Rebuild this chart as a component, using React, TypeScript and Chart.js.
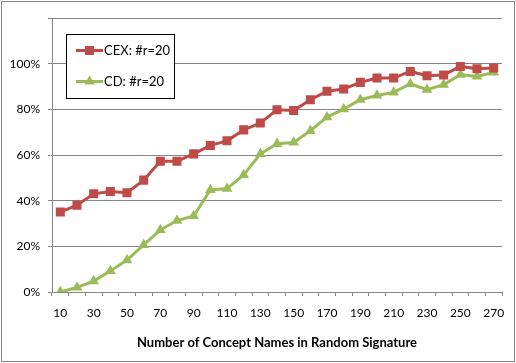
import React, { useEffect, useRef } from "react";
import { Chart, registerables } from "chart.js";

Chart.register(...registerables);

const categories = [10, 20, 30, 40, 50, 60, 70, 80, 90, 100, 110, 120, 130, 140, 150, 160, 170, 180, 190, 200, 210, 220, 230, 240, 250, 260, 270];
const cexValues = [0.35, 0.38, 0.43, 0.44, 0.435, 0.49, 0.573, 0.573, 0.605, 0.642, 0.662, 0.71, 0.74, 0.798, 0.795, 0.842, 0.879, 0.889, 0.918, 0.937, 0.937, 0.966, 0.947, 0.95, 0.988, 0.978, 0.981];
const cdValues = [0.0, 0.02, 0.048, 0.092, 0.14, 0.206, 0.272, 0.313, 0.333, 0.447, 0.453, 0.513, 0.605, 0.649, 0.655, 0.706, 0.766, 0.801, 0.842, 0.861, 0.874, 0.911, 0.886, 0.908, 0.952, 0.944, 0.962];
const seriesLabels = ["CEX: #r=20", "CD: #r=20"];
const yTickValues = [0, 0.2, 0.4, 0.6, 0.8, 1.0, 1.2];
const xTitle = "Number of Concept Names in Random Signature";

const RED = "#BE4B48";
const GREEN = "#9BBB59";
const GRID = "#868686";
const FONT = "Lato";

const legendPlugin = {
  id: "insideLegend",
  afterDraw(chart: any) {
    const ctx = chart.ctx;
    ctx.save();
    const bx = 66.5, by = 34.5, bw = 108, bh = 64;
    ctx.fillStyle = "#fff";
    ctx.fillRect(bx, by, bw, bh);
    ctx.strokeStyle = "#000";
    ctx.lineWidth = 1;
    ctx.strokeRect(bx, by, bw, bh);
    const rows = [50.5, 81.5];
    chart.data.datasets.forEach((ds: any, i: number) => {
      const y = rows[i];
      ctx.strokeStyle = ds.borderColor;
      ctx.lineWidth = 3;
      ctx.beginPath();
      ctx.moveTo(76, y);
      ctx.lineTo(103, y);
      ctx.stroke();
      ctx.fillStyle = ds.backgroundColor;
      if (ds.pointStyle === "rect") {
        ctx.fillRect(85, y - 4.5, 9, 9);
      } else {
        const r = 6;
        ctx.beginPath();
        ctx.moveTo(89.5, y - r);
        ctx.lineTo(89.5 + r * 0.866, y + r / 2);
        ctx.lineTo(89.5 - r * 0.866, y + r / 2);
        ctx.closePath();
        ctx.fill();
      }
      ctx.fillStyle = "#000";
      ctx.font = `13px ${FONT}`;
      ctx.textAlign = "left";
      ctx.textBaseline = "middle";
      ctx.fillText(ds.label, 104, y);
    });
    ctx.restore();
  },
};

export default function App() {
  const ref = useRef<HTMLCanvasElement | null>(null);
  useEffect(() => {
    document.body.style.margin = "0";
    if (!ref.current) return;
    const chart = new Chart(ref.current, {
      type: "line",
      data: {
        labels: categories.map(String),
        datasets: [
          {
            label: seriesLabels[0],
            data: cexValues,
            borderColor: RED,
            backgroundColor: RED,
            borderWidth: 3,
            pointStyle: "rect",
            pointRadius: 6.4,
            pointBorderWidth: 0,
            tension: 0,
          },
          {
            label: seriesLabels[1],
            data: cdValues,
            borderColor: GREEN,
            backgroundColor: GREEN,
            borderWidth: 3,
            pointStyle: "triangle",
            pointRadius: 6.2,
            pointBorderWidth: 0,
            tension: 0,
          },
        ],
      },
      options: {
        responsive: false,
        animation: false,
        layout: { padding: { left: 0, top: 18, right: 14, bottom: 0 } },
        plugins: { legend: { display: false }, tooltip: { enabled: false } },
        scales: {
          x: {
            type: "category",
            offset: true,
            afterFit: (s: any) => { s.height = 71; },
            grid: { display: true, drawOnChartArea: false, drawTicks: true, tickLength: 4, color: GRID, offset: true },
            border: { display: true, color: GRID, width: 1 },
            ticks: {
              autoSkip: false,
              maxRotation: 0,
              padding: 10,
              color: "#000",
              font: { family: FONT, size: 12 },
              callback: (_v: any, i: number) => (i % 2 === 0 ? String(categories[i]) : ""),
            },
            title: {
              display: true,
              text: xTitle,
              color: "#000",
              font: { family: FONT, size: 13, weight: "bold" },
              padding: { top: 0, bottom: 12 },
            },
          },
          y: {
            min: 0,
            max: 1.2,
            afterFit: (s: any) => { s.width = 52; },
            afterBuildTicks: (s: any) => { s.ticks = yTickValues.map((v) => ({ value: v })); },
            grid: { color: GRID, tickLength: 4, drawTicks: true },
            border: { display: true, color: GRID, width: 1 },
            ticks: {
              padding: 8,
              color: "#000",
              font: { family: FONT, size: 12 },
              callback: (v: any) => (v > 1.05 ? "" : Math.round(v * 100) + "%"),
            },
          },
        },
      },
      plugins: [legendPlugin],
    });
    return () => chart.destroy();
  }, []);
  return (
    <div style={{ position: "relative", width: 516, height: 363, background: "#fff" }}>
      <canvas ref={ref} width={516} height={363} style={{ display: "block" }} />
      <div style={{ position: "absolute", left: 1, top: 1, width: 514, height: 361, boxSizing: "border-box", border: `1px solid ${GRID}`, pointerEvents: "none" }} />
    </div>
  );
}
